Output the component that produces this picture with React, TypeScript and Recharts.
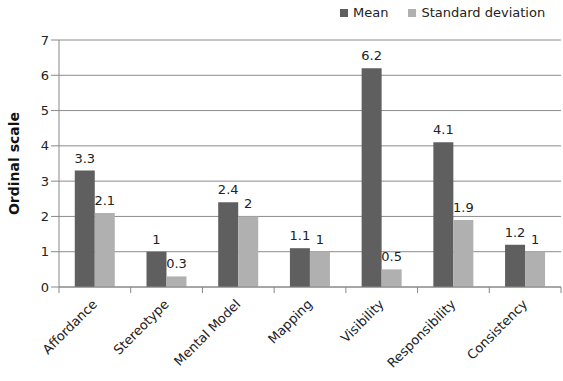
import React from 'react'
import { BarChart, Bar, XAxis, YAxis, CartesianGrid, Legend, LabelList, Label } from 'recharts'

const categories = ['Affordance', 'Stereotype', 'Mental Model', 'Mapping', 'Visibility', 'Responsibility', 'Consistency']
const meanValues = [3.3, 1, 2.4, 1.1, 6.2, 4.1, 1.2]
const sdValues = [2.1, 0.3, 2, 1, 0.5, 1.9, 1]
const yTicks = [0, 1, 2, 3, 4, 5, 6, 7]

const data = categories.map((name, i) => ({ name, mean: meanValues[i], sd: sdValues[i] }))

const FONT = '"DejaVu Sans", sans-serif'
const PLOT_LEFT = 59
const PLOT_RIGHT = 561
const HALF_BAND = (PLOT_RIGHT - PLOT_LEFT) / categories.length / 2

const CategoryTick = (props: any) => {
  const { x, y, payload, index } = props
  const isLast = index === categories.length - 1
  return (
    <g>
      <line x1={x - HALF_BAND} y1={y - 8} x2={x - HALF_BAND} y2={y - 2} stroke="#888" />
      {isLast && <line x1={x + HALF_BAND} y1={y - 8} x2={x + HALF_BAND} y2={y - 2} stroke="#888" />}
      <text
        x={x + 3}
        y={y + 10}
        textAnchor="end"
        transform={`rotate(-45, ${x + 3}, ${y + 10})`}
        fontSize={13}
        fontFamily={FONT}
        fill="#222"
      >
        {payload.value}
      </text>
    </g>
  )
}

// legend drawn like the Excel one: small squares, wide gap between entries
const LegendContent = (props: any) => {
  const { payload } = props
  return (
    <div style={{ display: 'flex', fontSize: 13, fontFamily: FONT, color: '#222' }}>
      {(payload || []).map((entry: any, i: number) => (
        <div key={i} style={{ display: 'flex', alignItems: 'center', marginLeft: i === 0 ? 0 : 20 }}>
          <span style={{ width: 8, height: 8, background: entry.color, display: 'inline-block', marginRight: 5 }} />
          <span>{entry.value}</span>
        </div>
      ))}
    </div>
  )
}

export default function App() {
  return (
    <div style={{ position: 'absolute', left: 0, top: 0, background: '#fff' }}>
      <BarChart
        width={563}
        height={381}
        data={data}
        margin={{ top: 25, right: 2, left: 0, bottom: 0 }}
        barCategoryGap="22%"
        barGap={0}
      >
        <CartesianGrid vertical={false} stroke="#8c8c8c" />
        <XAxis
          dataKey="name"
          height={94}
          interval={0}
          axisLine={{ stroke: '#888' }}
          tickLine={false}
          tick={<CategoryTick />}
        />
        <YAxis
          width={59}
          domain={[0, 7]}
          ticks={yTicks}
          interval={0}
          axisLine={{ stroke: '#888' }}
          tickLine={{ stroke: '#888' }}
          tickSize={8}
          tick={{ fontSize: 13, fontFamily: FONT, fill: '#222' }}
        >
          <Label
            value="Ordinal scale"
            angle={-90}
            position="insideLeft"
            offset={14}
            style={{ fontSize: 14, fontWeight: 'bold', fontFamily: FONT, fill: '#111', textAnchor: 'middle' }}
          />
        </YAxis>
        <Legend
          verticalAlign="top"
          content={<LegendContent />}
          wrapperStyle={{ top: 5, left: 340, width: 220 }}
        />
        <Bar dataKey="mean" name="Mean" fill="#5f5f5f" isAnimationActive={false}>
          <LabelList dataKey="mean" position="top" offset={8} style={{ fontSize: 13, fontFamily: FONT, fill: '#222' }} />
        </Bar>
        <Bar dataKey="sd" name="Standard deviation" fill="#b0b0b0" isAnimationActive={false}>
          <LabelList dataKey="sd" position="top" offset={8} style={{ fontSize: 13, fontFamily: FONT, fill: '#222' }} />
        </Bar>
      </BarChart>
    </div>
  )
}
